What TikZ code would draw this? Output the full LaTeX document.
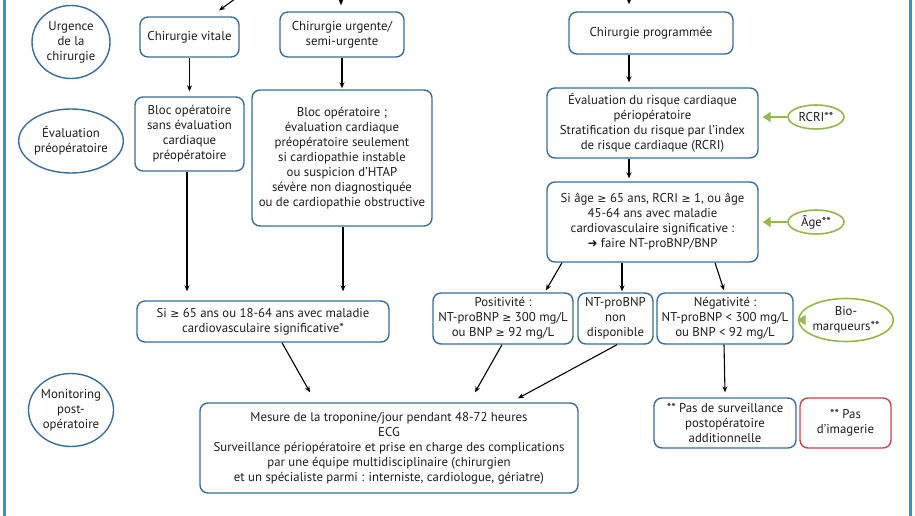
\documentclass[tikz,border=0pt]{standalone}
\usepackage{fontspec}
\setmainfont{PT Sans}
\newfontfamily\symfont{DejaVu Sans}
\newcommand\gesym{{\symfont\fontsize{11}{15}\selectfont ≥}}
\usetikzlibrary{arrows.meta,shapes.geometric}
\definecolor{frameteal}{HTML}{2A9BB8}
\definecolor{boxblue}{HTML}{3A6E98}
\definecolor{leaf}{HTML}{94B84A}
\definecolor{alertred}{HTML}{C0474A}
\definecolor{ink}{HTML}{1E1E1E}
\begin{document}
\begin{tikzpicture}[x=1pt,y=-1pt,
  every node/.style={font=\fontsize{12.8}{15}\selectfont, text=ink, align=center},
  stepbox/.style={draw=boxblue, line width=1.4pt, rounded corners=8pt, inner sep=0pt},
  phase/.style={draw=boxblue, line width=1.4pt, ellipse, inner sep=0pt},
  hint/.style={draw=leaf, line width=1.6pt, ellipse, inner sep=0pt, fill=white},
  redbox/.style={draw=alertred, line width=1.4pt, rounded corners=8pt, inner sep=0pt},
  arr/.style={draw=black, line width=1.1pt, -{Stealth[length=6pt,width=5pt]}},
  garr/.style={draw=leaf, line width=2.6pt, -{Triangle[length=8pt,width=10pt]}, shorten >=4pt}
]
\useasboundingbox (0,0) rectangle (915,516);
\fill[white] (0,0) rectangle (915,516);
% frame
\draw[frameteal, line width=2.4pt] (4.5,-5) -- (4.5,521);
\draw[frameteal, line width=2.4pt] (910.5,-5) -- (910.5,521);

% left phase ellipses
\node[phase, minimum width=78pt, minimum height=73pt] (ph1) at (71,42) {Urgence\\de la\\chirurgie};
\node[phase, minimum width=102pt, minimum height=64pt] (ph2) at (71,141) {Évaluation\\préopératoire};
\node[phase, minimum width=80pt, minimum height=73pt] (ph3) at (71,410) {Monitoring\\post-\\opératoire};

% boxes
\node[stepbox, minimum width=99pt, minimum height=40pt] (vitale) at (189.5,37) {Chirurgie vitale};
\node[stepbox, minimum width=124pt, minimum height=45pt] (urgente) at (342,34.5) {Chirurgie urgente/\\semi-urgente};
\node[stepbox, minimum width=164pt, minimum height=42pt] (prog) at (651,33) {Chirurgie programmée};

\node[stepbox, minimum width=109pt, minimum height=74pt] (blocA) at (189.5,134) {Bloc opératoire\\sans évaluation\\cardiaque\\préopératoire};
\node[stepbox, minimum width=180pt, minimum height=136pt] (blocB) at (342,158) {Bloc opératoire ;\\évaluation cardiaque\\préopératoire seulement\\si cardiopathie instable\\ou suspicion d’HTAP\\sévère non diagnostiquée\\ou de cardiopathie obstructive};

\node[stepbox, minimum width=211pt, minimum height=70pt] (evalR) at (652.5,123) {Évaluation du risque cardiaque\\périopératoire\\Stratification du risque par l’index\\de risque cardiaque (RCRI)};
\node[stepbox, minimum width=211pt, minimum height=80pt] (siage) at (652.5,222) {Si âge \gesym{} 65 ans, RCRI \gesym{} 1, ou âge\\45-64 ans avec maladie\\cardiovasculaire significative :\\{\symfont\fontsize{12}{15}\selectfont ➜} faire NT-proBNP/BNP};

\node[hint, minimum width=56pt, minimum height=24pt] (rcri) at (816,117) {RCRI**};
\node[hint, minimum width=56pt, minimum height=24pt] (age) at (816,222) {Âge**};
\node[hint, minimum width=77pt, minimum height=43pt] (bio) at (846,320) {Bio-\\marqueurs**};

\node[stepbox, minimum width=252pt, minimum height=41pt] (si65) at (263,321.5) {Si \gesym{} 65 ans ou 18-64 ans avec maladie\\cardiovasculaire significative*};
\node[stepbox, minimum width=140pt, minimum height=51pt] (pos) at (503,318.5) {Positivité :\\NT-proBNP \gesym{} 300 mg/L\\ou BNP \gesym{} 92 mg/L};
\node[stepbox, minimum width=75pt, minimum height=51pt] (nd) at (615.5,318.5) {NT-proBNP\\non\\disponible};
\node[stepbox, minimum width=136pt, minimum height=51pt] (neg) at (725,318.5) {Négativité :\\NT-proBNP < 300 mg/L\\ou BNP < 92 mg/L};

\node[stepbox, minimum width=378pt, minimum height=90pt] (mesure) at (389,448) {Mesure de la troponine/jour pendant 48-72 heures\\ECG\\Surveillance périopératoire et prise en charge des complications\\par une équipe multidisciplinaire (chirurgien\\et un spécialiste parmi : interniste, cardiologue, gériatre)};
\node[stepbox, minimum width=142pt, minimum height=50pt] (pasS) at (725,423) {** Pas de surveillance\\postopératoire\\additionnelle};
\node[redbox, minimum width=91pt, minimum height=50pt] (pasI) at (845.5,423) {** Pas\\d’imagerie};

% incoming arrows from above (cropped)
\coordinate (inA) at (250,-12);
\coordinate (inB) at (341,-12);
\coordinate (inC) at (629,-12);
\draw[arr, shorten >=10pt] (inA) -- ([xshift=21.5pt]vitale.north);
\draw[arr, shorten >=6pt] (inB) -- ([xshift=-1pt]urgente.north);
\draw[arr, shorten >=7pt] (inC) -- ([xshift=-22pt]prog.north);

% vertical arrows
\draw[arr, shorten >=5pt] (vitale.south) -- (blocA.north);
\draw[arr, shorten >=1pt] (urgente.south) -- (blocB.north -| urgente.south);
\draw[arr, shorten >=5pt] ([xshift=-22pt]prog.south) -- ([xshift=-23.5pt]evalR.north);
\draw[arr, shorten >=3pt] ([xshift=-23.5pt]evalR.south) -- ([xshift=-23.5pt]siage.north);
\draw[arr] ([xshift=-2.5pt]blocA.south) -- ([xshift=-76pt,yshift=9pt]si65.north);
\draw[arr] ([xshift=1pt]blocB.south) -- ([xshift=80pt,yshift=9pt]si65.north);

% branching from siage
\draw[arr] ([xshift=-90.5pt]siage.south) -- ([xshift=43pt,yshift=2pt]pos.north);
\draw[arr] ([xshift=-30.5pt]siage.south) -- ([xshift=6.5pt,yshift=1pt]nd.north);
\draw[arr] ([xshift=62.5pt]siage.south) -- ([xshift=-1pt,yshift=2pt]neg.north);

% to mesure
\draw[arr] ([xshift=19pt]si65.south) -- ([xshift=-79pt,yshift=10pt]mesure.north);
\draw[arr] ([xshift=-1pt]pos.south) -- ([xshift=86pt,yshift=10pt]mesure.north);
\draw[arr] ([xshift=1.5pt]nd.south) -- ([xshift=129pt,yshift=4pt]mesure.north);
\draw[arr] ([xshift=-1pt]neg.south) -- ([yshift=5pt]pasS.north);

% green hint arrows
\draw[garr] (rcri.west) -- (evalR.east |- rcri.west);
\draw[garr] (age.west) -- (siage.east |- age.west);
\draw[garr] (bio.west) -- (neg.east |- bio.west);
\end{tikzpicture}
\end{document}
